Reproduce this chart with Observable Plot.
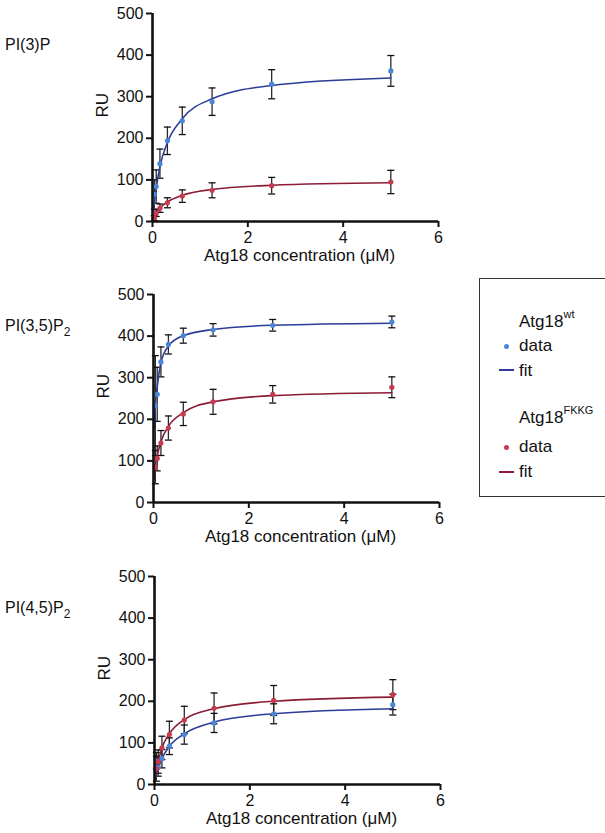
<!DOCTYPE html>
<html>
<head>
<meta charset="utf-8">
<script src="https://cdn.jsdelivr.net/npm/d3@7"></script>
<script src="https://cdn.jsdelivr.net/npm/@observablehq/plot@0.6"></script>
<style>
  body { margin: 0; background: #fff; font-family: "Liberation Sans", Arial, sans-serif; color: #111; }
  #page { position: relative; width: 605px; height: 833px; overflow: hidden; }
  .panel { position: absolute; left: 0; }
  .lab { position: absolute; font-size: 16px; white-space: nowrap; }
  .lab sub { font-size: 12px; vertical-align: -5px; }
  .leg { position: absolute; font-size: 17px; white-space: nowrap; line-height: 1; }
  .leg sup { font-size: 11px; vertical-align: 9px; }
</style>
</head>
<body>
<div id="page"></div>
<script>
// ---- data ----
const conc = [0.039, 0.078, 0.156, 0.3125, 0.625, 1.25, 2.5, 5];
const fitConc = [0.015, 0.039, 0.078, 0.156, 0.3125, 0.625, 1.25, 2.5, 5];

const panelNames = ["PI(3)P", "PI(3,5)P2", "PI(4,5)P2"];

// PI(3)P
const p1WtMean   = [65, 84, 139, 194, 242, 288, 330, 362];
const p1WtSD     = [35, 40, 35, 33, 33, 33, 35, 37];
const p1WtFit    = [25, 45, 80, 132, 190, 247, 295, 327, 345];
const p1FkMean   = [8, 20, 32, 45, 61, 75, 86, 95];
const p1FkSD     = [6, 8, 10, 12, 15, 18, 20, 28];
const p1FkFit    = [4, 10, 19, 32, 47, 63, 77, 87, 93];

// PI(3,5)P2
const p2WtMean   = [233, 260, 338, 380, 401, 415, 426, 434];
const p2WtSD     = [120, 65, 36, 23, 18, 15, 14, 14];
const p2WtFit    = [180, 235, 278, 336, 376, 401, 416, 426, 431];
const p2FkMean   = [85, 106, 143, 179, 213, 242, 260, 277];
const p2FkSD     = [40, 30, 30, 29, 28, 30, 21, 25];
const p2FkFit    = [55, 88, 112, 146, 183, 216, 242, 257, 264];

// PI(4,5)P2
const p3WtMean   = [57, 42, 62, 92, 120, 148, 170, 192];
const p3WtSD     = [20, 22, 22, 20, 23, 23, 24, 25];
const p3WtFit    = [10, 22, 38, 62, 92, 122, 150, 170, 182];
const p3FkMean   = [38, 55, 88, 120, 155, 183, 202, 216];
const p3FkSD     = [30, 28, 28, 32, 33, 37, 36, 36];
const p3FkFit    = [14, 32, 55, 88, 122, 156, 182, 200, 210];

const xTicks = [0, 2, 4, 6];
const yTicks = [0, 100, 200, 300, 400, 500];
const xLabel = "Atg18 concentration (μM)";
const yLabel = "RU";

const wtPoint = "#4a86d6", wtLine = "#2c3c98";
const fkPoint = "#c73a4f", fkLine = "#8c1c35";

// ---- build ----
const panels = [
  {wt: [p1WtMean, p1WtSD, p1WtFit], fk: [p1FkMean, p1FkSD, p1FkFit], top: 1,   ml: 152},
  {wt: [p2WtMean, p2WtSD, p2WtFit], fk: [p2FkMean, p2FkSD, p2FkFit], top: 282, ml: 153},
  {wt: [p3WtMean, p3WtSD, p3WtFit], fk: [p3FkMean, p3FkSD, p3FkFit], top: 564, ml: 154}
];

const cap = { draw(ctx) { ctx.moveTo(-3.5, 0); ctx.lineTo(3.5, 0); } };

function pts(mean, sd, group) {
  return conc.map((c, i) => ({x: c, y: mean[i], lo: mean[i] - sd[i], hi: mean[i] + sd[i], g: group}));
}
function fitPts(fit, group) {
  return fitConc.map((c, i) => ({x: c, y: fit[i], g: group}));
}

const page = document.getElementById("page");

panels.forEach((p, k) => {
  const data = [...pts(p.wt[0], p.wt[1], "wt"), ...pts(p.fk[0], p.fk[1], "fk")];
  const fits = [...fitPts(p.wt[2], "wt"), ...fitPts(p.fk[2], "fk")];
  const chart = Plot.plot({
    width: 460,
    height: 270,
    marginLeft: p.ml,
    marginRight: 460 - p.ml - 286,
    marginTop: 12,
    marginBottom: 50,
    style: {fontFamily: "'Liberation Sans', Arial, sans-serif", fontSize: "16px", color: "#111", background: "transparent", overflow: "visible"},
    x: {domain: [0, 6]},
    y: {domain: [0, 500]},
    color: {domain: ["wt", "fk"], range: [wtPoint, fkPoint]},
    marks: [
      Plot.axisX({ticks: xTicks, tickFormat: d3.format("d"), tickSize: 6, tickPadding: 4, strokeWidth: 2, fontSize: 16, label: null}),
      Plot.axisY({ticks: yTicks, tickFormat: d3.format("d"), tickSize: 6, tickPadding: 3, strokeWidth: 2, fontSize: 16, label: null}),
      Plot.ruleX(data, {x: "x", y1: "lo", y2: "hi", stroke: "#2a2a2a", strokeWidth: 1.3}),
      Plot.dot(data, {x: "x", y: "hi", symbol: cap, stroke: "#111", strokeWidth: 1.3, r: 3}),
      Plot.dot(data, {x: "x", y: "lo", symbol: cap, stroke: "#111", strokeWidth: 1.3, r: 3}),
      Plot.line(fits.filter(d => d.g === "wt"), {x: "x", y: "y", stroke: wtLine, strokeWidth: 1.6, curve: "monotone-x"}),
      Plot.line(fits.filter(d => d.g === "fk"), {x: "x", y: "y", stroke: fkLine, strokeWidth: 1.6, curve: "monotone-x"}),
      Plot.dot(data, {x: "x", y: "y", fill: "g", r: 2.6}),
      Plot.ruleX([0], {stroke: "#111", strokeWidth: 2.6}),
      Plot.ruleY([0], {stroke: "#111", strokeWidth: 2.6}),
      Plot.text([xLabel], {frameAnchor: "bottom", dy: 39, dx: 4, fontSize: 17, fill: "#111"}),
      Plot.text([yLabel], {frameAnchor: "left", rotate: -90, dx: -50, fontSize: 17, fill: "#111"})
    ]
  });
  chart.classList.add("panel");
  chart.style.top = p.top + "px";
  page.appendChild(chart);
});

// panel labels
function addHTML(cls, html, left, top) {
  const d = document.createElement("div");
  d.className = cls;
  d.innerHTML = html;
  d.style.left = left + "px";
  d.style.top = top + "px";
  page.appendChild(d);
  return d;
}
const labelTops = [36, 317, 599];
panelNames.forEach((n, i) => {
  const html = n.replace(/P2$/, "P<sub>2</sub>");
  addHTML("lab", html, 5, labelTops[i]);
});

// legend
const box = document.createElement("div");
box.style.cssText = "position:absolute;left:479px;top:278px;width:140px;height:219px;border:1px solid #333;box-sizing:border-box;";
page.appendChild(box);
addHTML("leg", "Atg18<sup>wt</sup>", 519, 309);
addHTML("leg", "data", 519, 337);
addHTML("leg", "fit", 519, 362);
addHTML("leg", "Atg18<sup>FKKG</sup>", 519, 405);
addHTML("leg", "data", 519, 438);
addHTML("leg", "fit", 519, 463);
function legDot(color, cy) {
  const d = document.createElement("div");
  d.style.cssText = `position:absolute;left:${506.5 - 2.5}px;top:${cy - 2.5}px;width:5px;height:5px;border-radius:50%;background:${color};`;
  page.appendChild(d);
}
function legLine(color, cy) {
  const d = document.createElement("div");
  d.style.cssText = `position:absolute;left:499px;top:${cy - 0.8}px;width:15px;height:1.6px;background:${color};`;
  page.appendChild(d);
}
legDot(wtPoint, 346);
legLine(wtLine, 370);
legDot(fkPoint, 447);
legLine(fkLine, 472);
</script>
</body>
</html>
